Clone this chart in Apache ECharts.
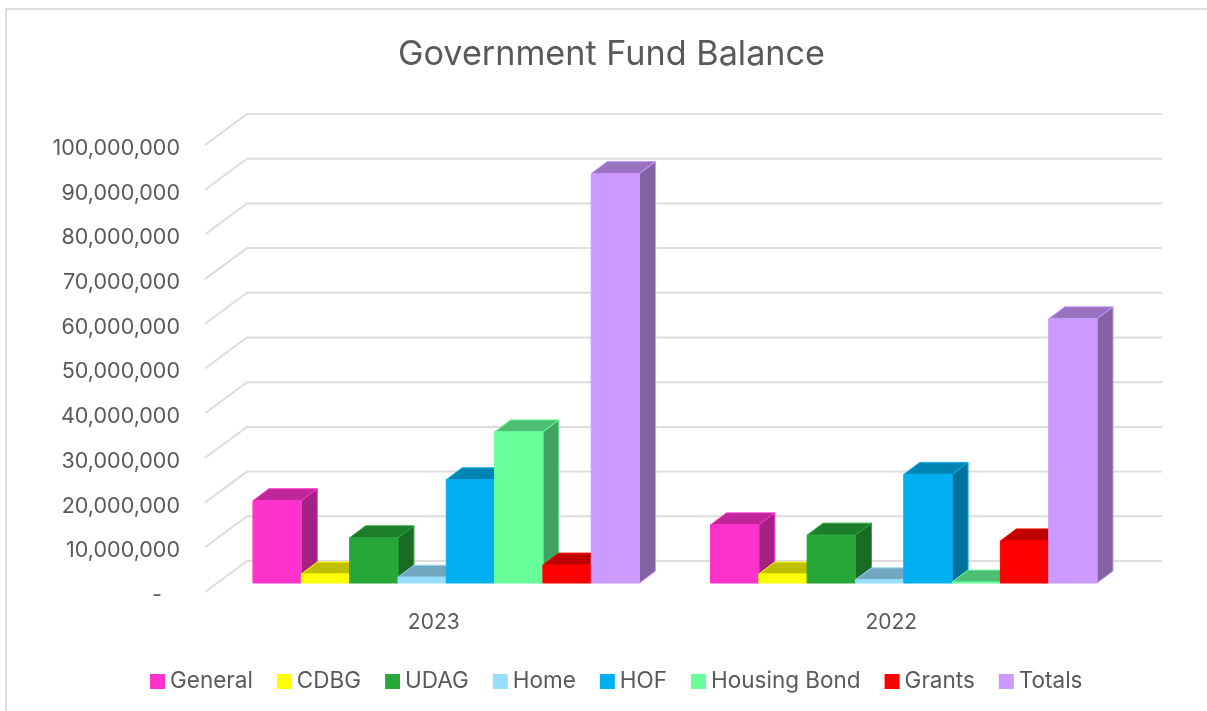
<!DOCTYPE html>
<html>
<head>
<meta charset="utf-8">
<title>Government Fund Balance</title>
<script src="https://cdn.jsdelivr.net/npm/echarts@6/dist/echarts.min.js"></script>
<style>
  html, body { margin: 0; padding: 0; background: #fff; overflow: hidden; }
  #chart { width: 1207px; height: 711px; }
</style>
</head>
<body>
<div id="chart"></div>
<script>
const categories = ['2023', '2022'];
const general = [18400000, 13000000];
const cdbg = [2000000, 2000000];
const udag = [10100000, 10700000];
const home = [1300000, 700000];
const hof = [23100000, 24300000];
const housingBond = [33800000, 200000];
const grants = [4000000, 9400000];
const totals = [91600000, 59100000];
const seriesNames = ['General', 'CDBG', 'UDAG', 'Home', 'HOF', 'Housing Bond', 'Grants', 'Totals'];
const seriesValues = [general, cdbg, udag, home, hof, housingBond, grants, totals];
const seriesColors = ['#FF33CC', '#FFFF00', '#28A739', '#99DDFF', '#00B0F0', '#66FF99', '#FF0000', '#CC99FF'];
const yTicks = [0, 10000000, 20000000, 30000000, 40000000, 50000000, 60000000, 70000000, 80000000, 90000000, 100000000];

// Oblique projection of the floor: how far the back wall sits from the front edge.
const WALL_DX = 42;
const WALL_DY = -31;
// Where the bars stand on the floor, and how deep each one is.
const BAR_DX = 12.5;
const BAR_DY = -9;
const DEPTH_DX = 16;
const DEPTH_DY = -12;
// Share of a category band taken up by its eight bars.
const CLUSTER_SHARE = 0.845;

const TEXT = '#595959';
const GRID_LINE = '#DDDDDD';
const FONT = 'Inter, "Open Sans", sans-serif';

function shade(hex, k) {
  const n = parseInt(hex.slice(1), 16);
  const ch = (v) => Math.round(v * k);
  return 'rgb(' + ch((n >> 16) & 255) + ',' + ch((n >> 8) & 255) + ',' + ch(n & 255) + ')';
}

// Each wall line runs up the side wall from the front edge, then along the back wall.
function renderWallLine(params, api) {
  const sys = params.coordSys;
  const y = api.coord([0, api.value(0)])[1];
  return {
    type: 'polyline',
    shape: {
      points: [
        [sys.x, y],
        [sys.x + WALL_DX, y + WALL_DY],
        [sys.x + sys.width + WALL_DX, y + WALL_DY]
      ]
    },
    style: { fill: 'none', stroke: GRID_LINE, lineWidth: 2 }
  };
}

function makeBarRenderer(seriesIndex) {
  const base = seriesColors[seriesIndex];
  return function (params, api) {
    const band = api.size([1, 0])[0];
    const barWidth = band * CLUSTER_SHARE / seriesNames.length;
    const center = api.coord([api.value(0), 0]);
    const top = api.coord([api.value(0), api.value(1)]);
    const x0 = center[0] + BAR_DX + (seriesIndex - seriesNames.length / 2) * barWidth;
    const x1 = x0 + barWidth;
    const yBase = center[1] + BAR_DY;
    const yTop = top[1] + BAR_DY;
    const face = (points, fill) => ({
      type: 'polygon',
      shape: { points },
      style: { fill, stroke: base, lineWidth: 1 }
    });
    return {
      type: 'group',
      children: [
        face([[x1, yBase], [x1 + DEPTH_DX, yBase + DEPTH_DY], [x1 + DEPTH_DX, yTop + DEPTH_DY], [x1, yTop]], shade(base, 0.64)),
        face([[x0, yTop], [x1, yTop], [x1 + DEPTH_DX, yTop + DEPTH_DY], [x0 + DEPTH_DX, yTop + DEPTH_DY]], shade(base, 0.75)),
        face([[x0, yBase], [x1, yBase], [x1, yTop], [x0, yTop]], base)
      ]
    };
  };
}

const wallSeries = {
  type: 'custom',
  name: 'walls',
  silent: true,
  z: 1,
  renderItem: renderWallLine,
  encode: { y: 0 },
  data: yTicks.map((t) => [t])
};

const barSeries = seriesNames.map((name, i) => ({
  type: 'custom',
  name,
  z: 2 + i,
  itemStyle: { color: seriesColors[i] },
  renderItem: makeBarRenderer(i),
  encode: { x: 0, y: 1 },
  data: categories.map((c, k) => [k, seriesValues[i][k]])
}));

const chart = echarts.init(document.getElementById('chart'), null, { renderer: 'canvas' });
chart.setOption({
  animation: false,
  backgroundColor: '#fff',
  graphic: [{
    type: 'rect',
    silent: true,
    z: -10,
    shape: { x: 6, y: 9, width: 1300, height: 800 },
    style: { fill: '#fff', stroke: GRID_LINE, lineWidth: 2 }
  }],
  title: {
    text: 'Government Fund Balance',
    left: 393,
    top: 33,
    textStyle: { color: TEXT, fontFamily: FONT, fontSize: 34.2, fontWeight: 'normal' }
  },
  legend: {
    data: seriesNames,
    left: 145,
    top: 665,
    icon: 'rect',
    itemWidth: 15,
    itemHeight: 15,
    itemGap: 24,
    textStyle: { color: TEXT, fontFamily: FONT, fontSize: 22.5 }
  },
  grid: { left: 205, right: 87, top: 145, bottom: 119, containLabel: false },
  xAxis: {
    type: 'category',
    data: categories,
    axisLine: { show: false },
    axisTick: { show: false },
    splitLine: { show: false },
    axisLabel: { color: TEXT, fontFamily: FONT, fontSize: 21, margin: 20 }
  },
  yAxis: {
    type: 'value',
    min: 0,
    max: 100000000,
    interval: 10000000,
    axisLine: { show: false },
    axisTick: { show: false },
    splitLine: { show: false },
    axisLabel: {
      margin: 25,
      formatter: (v) => '{tick|' + (v === 0 ? '-\u00a0\u00a0\u00a0' : v.toLocaleString('en-US')) + '}',
      rich: {
        tick: { color: TEXT, fontFamily: FONT, fontSize: 21.5, padding: [7, 0, 0, 0] }
      }
    }
  },
  series: [wallSeries].concat(barSeries)
});
</script>
</body>
</html>
